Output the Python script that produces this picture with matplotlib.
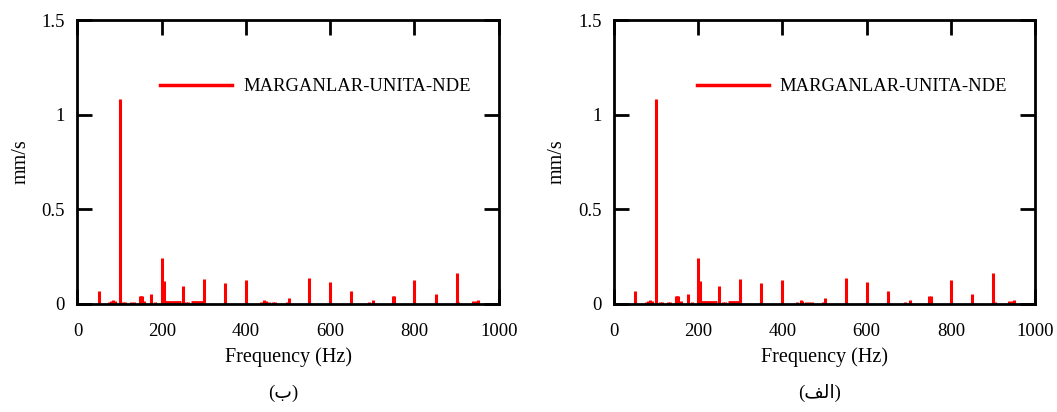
import matplotlib
matplotlib.use("Agg")
import matplotlib.pyplot as plt

# SPECTRUM PEAKS (Hz, mm/s)
peak_hz = [50, 75, 80, 85, 90, 100, 108, 114, 128, 134, 148, 150, 152, 158,
           175, 184, 200, 205, 250, 258, 263, 300, 350, 400,
           435, 443, 447, 455, 463, 470, 497, 502, 550, 600, 650,
           692, 702, 748, 752, 800, 850, 900, 904, 938, 945, 950]
peak_amp = [0.067, 0.01, 0.013, 0.02, 0.013, 1.08, 0.01, 0.01, 0.01, 0.01, 0.04, 0.04, 0.04, 0.012,
            0.051, 0.01, 0.24, 0.117, 0.095, 0.01, 0.01, 0.128, 0.107, 0.124,
            0.008, 0.018, 0.013, 0.01, 0.01, 0.008, 0.01, 0.029, 0.133, 0.115, 0.064,
            0.008, 0.02, 0.038, 0.038, 0.126, 0.049, 0.16, 0.008, 0.012, 0.012, 0.02]

# LOW FLAT PARTS OF THE SPECTRUM
floor_start = [205, 270]
floor_end = [245, 300]
floor_amp = [0.01, 0.009]

series_name = "MARGANLAR-UNITA-NDE"
captions = ["(\u0628)", "(\uFED2\uFEDF\uFE8D)"]

fig = plt.figure(figsize=(10.57, 4.12), dpi=100)
lefts = [0.0733, 0.5809]
serif = ["Liberation Serif", "DejaVu Sans"]

for k in range(2):
    ax = fig.add_axes([lefts[k], 0.2633, 0.3985, 0.688])
    ax.vlines(peak_hz, 0, peak_amp, color="red", lw=2.2)
    ax.hlines(floor_amp, floor_start, floor_end, color="red", lw=2)
    ax.plot([], [], color="red", lw=2.5, label=series_name)
    ax.set_xlim(0, 1000)
    ax.set_ylim(0, 1.5)
    ax.set_xticks([0, 200, 400, 600, 800, 1000])
    ax.set_yticks([0, 0.5, 1, 1.5])
    ax.set_yticklabels(["0", "0.5", "1", "1.5"])
    for s in ax.spines.values():
        s.set_linewidth(2)
    ax.tick_params(direction="in", length=11, width=2, top=True, right=True,
                   labelsize=13.5, colors="black")
    ax.tick_params(axis="x", pad=14)
    ax.tick_params(axis="y", pad=9)
    for lab in ax.get_xticklabels() + ax.get_yticklabels():
        lab.set_family(serif)
    ax.set_xlabel("Frequency (Hz)", fontsize=14.5, family=serif, labelpad=5)
    ax.set_ylabel("mm/s", fontsize=14.5, family=serif, labelpad=8)
    leg = ax.legend(loc="center left", bbox_to_anchor=(0.196, 0.764), frameon=False,
                    handlelength=3.87, handletextpad=0.6, borderpad=0, borderaxespad=0,
                    prop={"family": serif, "size": 13.4})
    fig.text(lefts[k] + 0.3985 / 2 - 0.005, 0.045, captions[k], ha="center", va="center",
             fontsize=13.5, family=serif)

fig.savefig("out.png", dpi=100)
